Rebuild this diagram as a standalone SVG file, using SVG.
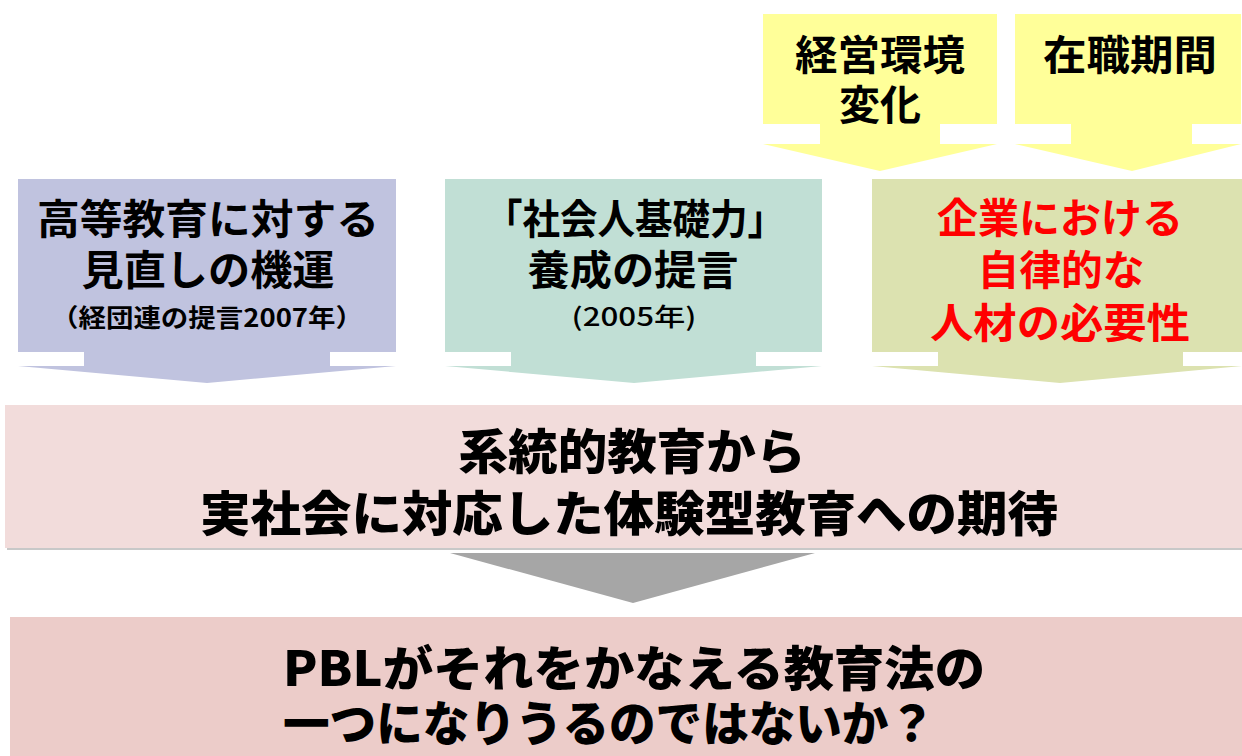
<svg xmlns="http://www.w3.org/2000/svg" width="1242" height="756" viewBox="0 0 1242 756">
<style>
.t{font-family:"Noto Sans CJK JP","Noto Sans CJK SC",sans-serif;font-weight:700;text-anchor:middle;fill:#000}
.big{font-size:41px}
.sm{font-size:25px;font-weight:500}
.smb{font-size:25px;font-weight:700}
.red{fill:#ff0000}
.mid{font-size:48px;font-weight:900}
</style>
<rect width="1242" height="756" fill="#ffffff"/>
<g id="node-keiei">
<path d="M763,14 H997 V124 H940 V144 H997 L880,171 L763,144 H820 V124 H763 Z" fill="#ffff99"/>
<text class="t big" x="880" y="70" textLength="170" lengthAdjust="spacingAndGlyphs">経営環境</text>
<text class="t big" x="880" y="120">変化</text>
</g>
<g id="node-zaishoku">
<path d="M1015,14 H1241 V124 H1192 V144 H1241 L1132,171 L1015,144 H1071 V124 H1015 Z" fill="#ffff99"/>
<text class="t big" x="1130" y="70" textLength="174" lengthAdjust="spacingAndGlyphs">在職期間</text>
</g>
<g id="node-koto">
<path d="M18,179 H396 V352 H330 V366 H396 L207,383 L18,366 H84 V352 H18 Z" fill="#c0c3df"/>
<text class="t big" x="208" y="234" textLength="342" lengthAdjust="spacingAndGlyphs">高等教育に対する</text>
<text class="t big" x="208" y="285" textLength="253" lengthAdjust="spacingAndGlyphs">見直しの機運</text>
<text class="t smb" x="207" y="327" textLength="312" lengthAdjust="spacingAndGlyphs">（経団連の提言2007年）</text>
</g>
<g id="node-shakaijin">
<path d="M445,179 H822 V352 H756 V366 H822 L634,383 L445,366 H511 V352 H445 Z" fill="#c1dfd5"/>
<text class="t big" x="635" y="234" textLength="300" lengthAdjust="spacingAndGlyphs">「社会人基礎力」</text>
<text class="t big" x="633" y="285" textLength="211" lengthAdjust="spacingAndGlyphs">養成の提言</text>
<text class="t sm" x="634" y="326" textLength="125" lengthAdjust="spacingAndGlyphs">(2005年)</text>
</g>
<g id="node-kigyo">
<path d="M872,179 H1242 V352 H1183 V366 H1242 L1060,383 L872,366 H938 V352 H872 Z" fill="#dce2b0"/>
<text class="t big red" x="1060" y="233" textLength="246" lengthAdjust="spacingAndGlyphs">企業における</text>
<text class="t big red" x="1061" y="285" textLength="167" lengthAdjust="spacingAndGlyphs">自律的な</text>
<text class="t big red" x="1060" y="338" textLength="260" lengthAdjust="spacingAndGlyphs">人材の必要性</text>
</g>
<g id="node-kitai">
<rect x="7" y="407" width="1235" height="143" fill="#c8c8c8"/>
<rect x="5" y="405" width="1237" height="143" fill="#f2dcdb"/>
<text class="t mid" x="632" y="469" textLength="347" lengthAdjust="spacingAndGlyphs">系統的教育から</text>
<text class="t mid" x="629" y="531" textLength="858" lengthAdjust="spacingAndGlyphs">実社会に対応した体験型教育への期待</text>
</g>
<g id="connectors">
<path d="M450,553 H815 L633,603 Z" fill="#a6a6a6"/>
</g>
<g id="node-pbl">
<rect x="10" y="617" width="1232" height="139" fill="#ecccc9"/>
<text class="t mid" x="634" y="686" textLength="702" lengthAdjust="spacingAndGlyphs">PBLがそれをかなえる教育法の</text>
<text class="t mid" x="609" y="741" textLength="652" lengthAdjust="spacingAndGlyphs">一つになりうるのではないか？</text>
</g>
</svg>
